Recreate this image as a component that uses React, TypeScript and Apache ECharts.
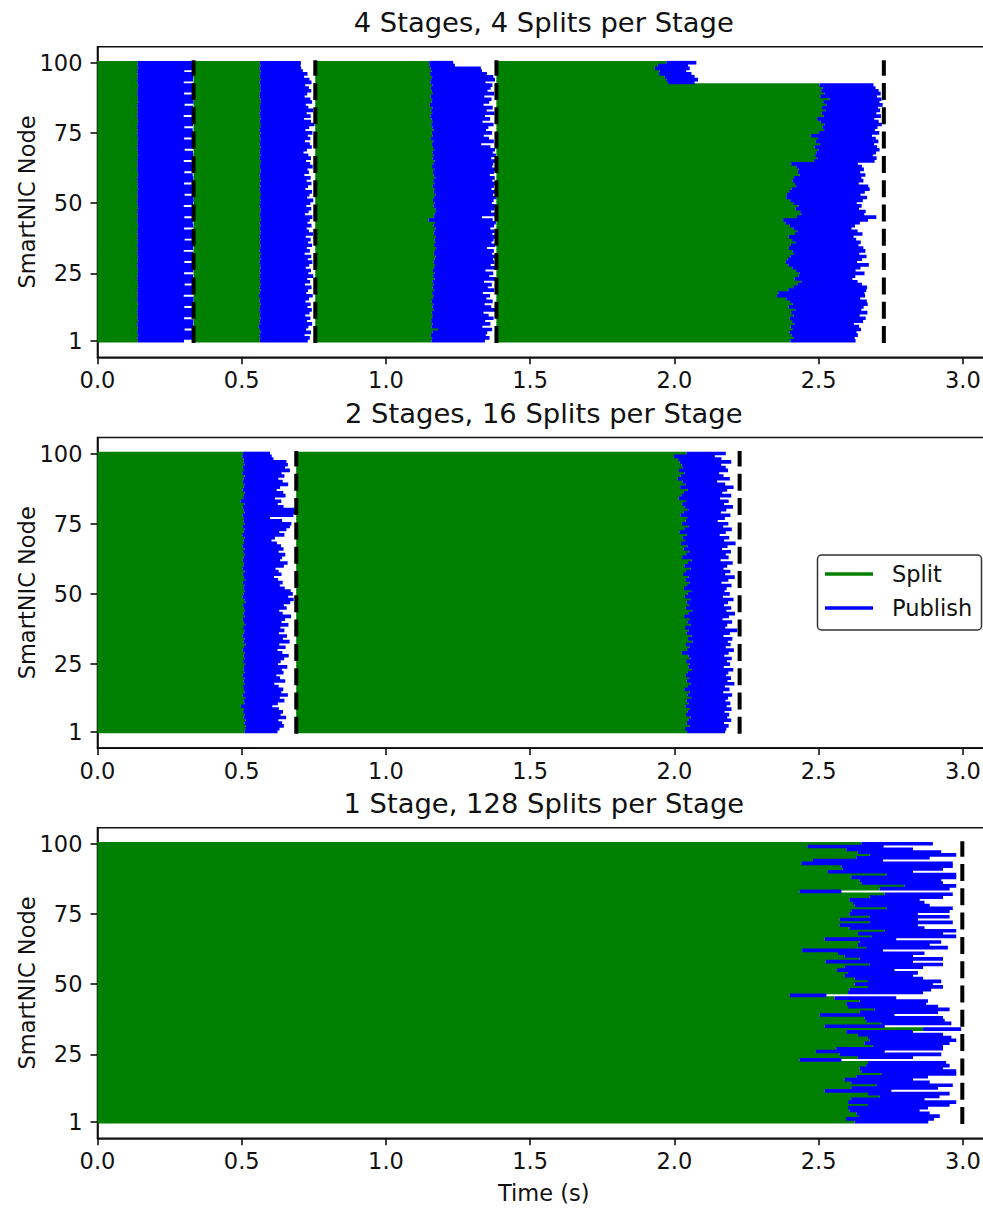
import React, { useEffect, useRef } from "react";
import * as echarts from "echarts";

// ---------- data (every per-node list runs from node 100 (top row) down to node 1) ----------
const NODES_TOP_DOWN = Array.from({ length: 100 }, (_, i) => 100 - i);
const X_TICKS = [0, 0.5, 1, 1.5, 2, 2.5, 3];
const Y_TICKS = [1, 25, 50, 75, 100];
const TITLES = [
  "4 Stages, 4 Splits per Stage",
  "2 Stages, 16 Splits per Stage",
  "1 Stage, 128 Splits per Stage",
];

// Panel A: 4 stages
const barriersA = [0.333, 0.755, 1.383, 2.726];
const splitEndA1 = [
  0.140,0.139,0.141,0.138,0.139,0.140,0.138,0.139,0.141,0.140,
  0.139,0.138,0.140,0.139,0.141,0.138,0.139,0.140,0.139,0.138,
  0.140,0.141,0.139,0.138,0.140,0.139,0.138,0.141,0.139,0.140,
  0.138,0.139,0.140,0.141,0.139,0.138,0.140,0.139,0.138,0.140,
  0.141,0.139,0.138,0.140,0.139,0.141,0.138,0.139,0.140,0.138,
  0.139,0.140,0.141,0.138,0.139,0.140,0.138,0.139,0.141,0.140,
  0.138,0.139,0.140,0.139,0.141,0.138,0.140,0.139,0.138,0.141,
  0.139,0.140,0.138,0.139,0.141,0.140,0.139,0.138,0.140,0.139,
  0.141,0.138,0.139,0.140,0.138,0.139,0.141,0.140,0.139,0.138,
  0.140,0.139,0.141,0.138,0.139,0.140,0.138,0.141,0.139,0.140,
];
const pubEndA1 = [
  0.332,0.331,0.333,0.301,0.330,0.332,0.331,0.299,0.333,0.330,
  0.331,0.300,0.332,0.330,0.333,0.302,0.331,0.332,0.330,0.299,
  0.332,0.333,0.331,0.301,0.330,0.332,0.333,0.300,0.331,0.330,
  0.333,0.302,0.331,0.332,0.330,0.299,0.333,0.331,0.332,0.301,
  0.330,0.332,0.331,0.300,0.333,0.331,0.330,0.302,0.332,0.333,
  0.331,0.299,0.330,0.332,0.333,0.301,0.331,0.330,0.332,0.300,
  0.333,0.331,0.332,0.302,0.330,0.333,0.331,0.299,0.332,0.330,
  0.331,0.301,0.333,0.330,0.332,0.300,0.331,0.333,0.330,0.302,
  0.332,0.330,0.331,0.299,0.333,0.332,0.330,0.301,0.331,0.333,
  0.330,0.300,0.332,0.331,0.333,0.302,0.330,0.332,0.331,0.300,
];
const splitEndA2 = [
  0.563,0.565,0.562,0.566,0.564,0.563,0.567,0.562,0.565,0.564,
  0.566,0.563,0.562,0.565,0.567,0.564,0.563,0.566,0.562,0.564,
  0.565,0.563,0.567,0.564,0.562,0.566,0.563,0.565,0.564,0.562,
  0.566,0.564,0.563,0.565,0.562,0.567,0.564,0.563,0.566,0.565,
  0.562,0.564,0.566,0.563,0.565,0.562,0.564,0.567,0.563,0.565,
  0.564,0.562,0.566,0.565,0.563,0.564,0.567,0.562,0.565,0.563,
  0.566,0.564,0.562,0.565,0.563,0.566,0.564,0.562,0.567,0.563,
  0.565,0.562,0.564,0.566,0.563,0.565,0.562,0.564,0.563,0.566,
  0.562,0.565,0.563,0.560,0.564,0.562,0.566,0.563,0.561,0.564,
  0.563,0.565,0.562,0.564,0.559,0.563,0.565,0.562,0.564,0.563,
];
const pubEndA2 = [
  0.705,0.704,0.706,0.712,0.728,0.716,0.735,0.742,0.720,0.733,
  0.741,0.727,0.718,0.738,0.744,0.722,0.731,0.747,0.725,0.739,
  0.716,0.740,0.752,0.734,0.721,0.745,0.729,0.738,0.719,0.736,
  0.743,0.726,0.714,0.731,0.740,0.723,0.737,0.746,0.728,0.733,
  0.717,0.739,0.725,0.742,0.730,0.721,0.744,0.735,0.727,0.748,
  0.738,0.724,0.741,0.732,0.719,0.745,0.736,0.728,0.742,0.725,
  0.733,0.747,0.722,0.739,0.730,0.744,0.726,0.736,0.718,0.741,
  0.729,0.745,0.734,0.722,0.740,0.731,0.748,0.727,0.737,0.719,
  0.742,0.730,0.724,0.746,0.733,0.721,0.739,0.728,0.743,0.735,
  0.720,0.738,0.726,0.744,0.731,0.723,0.740,0.718,0.736,0.729,
];
const splitEndA3 = [
  1.150,1.151,1.155,1.158,1.153,1.160,1.157,1.154,1.161,1.156,
  1.159,1.163,1.155,1.160,1.158,1.152,1.162,1.157,1.160,1.154,
  1.158,1.163,1.157,1.161,1.165,1.159,1.162,1.156,1.164,1.160,
  1.163,1.167,1.161,1.166,1.162,1.169,1.164,1.160,1.167,1.163,
  1.166,1.171,1.164,1.168,1.162,1.170,1.166,1.172,1.167,1.163,
  1.169,1.165,1.171,1.174,1.168,1.166,1.148,1.170,1.165,1.172,
  1.168,1.166,1.173,1.169,1.171,1.167,1.174,1.170,1.166,1.172,
  1.169,1.165,1.170,1.167,1.163,1.168,1.164,1.169,1.161,1.166,
  1.162,1.167,1.160,1.165,1.163,1.158,1.164,1.161,1.166,1.159,
  1.163,1.160,1.157,1.162,1.158,1.180,1.161,1.156,1.160,1.158,
];
const pubEndA3 = [
  1.233,1.239,1.329,1.333,1.350,1.372,1.378,1.345,1.369,1.363,
  1.352,1.375,1.341,1.366,1.358,1.338,1.370,1.349,1.376,1.343,
  1.361,1.335,1.373,1.355,1.347,1.368,1.339,1.357,1.374,1.330,
  1.362,1.378,1.370,1.381,1.365,1.379,1.372,1.368,1.380,1.375,
  1.360,1.377,1.369,1.382,1.374,1.366,1.379,1.371,1.383,1.373,
  1.367,1.380,1.376,1.364,1.378,1.333,1.370,1.381,1.375,1.362,
  1.377,1.369,1.380,1.373,1.366,1.379,1.350,1.374,1.368,1.381,
  1.371,1.376,1.363,1.378,1.345,1.372,1.358,1.380,1.340,1.367,
  1.353,1.375,1.336,1.361,1.348,1.370,1.342,1.365,1.379,1.338,
  1.356,1.373,1.344,1.362,1.334,1.368,1.351,1.346,1.359,1.343,
];
const splitEndA4 = [
  1.972,1.943,1.932,1.949,1.947,1.966,1.972,1.978,
  2.503,2.514,2.509,2.520,2.506,2.538,2.516,2.527,2.512,2.523,
  2.510,2.518,2.495,2.507,2.521,2.513,2.519,2.501,2.474,2.498,
  2.490,2.505,2.486,2.499,2.492,2.488,2.495,2.483,
  2.405,2.423,2.431,2.428,2.434,2.415,2.410,2.418,2.422,2.406,
  2.398,2.390,2.388,2.402,2.412,2.430,2.420,2.436,2.440,2.425,
  2.377,2.385,2.400,2.413,2.426,2.418,2.396,2.408,2.421,2.404,
  2.397,2.410,2.415,2.402,2.392,2.386,2.395,2.409,2.422,2.434,
  2.430,2.417,2.440,2.426,2.412,2.395,2.360,2.356,2.388,2.401,
  2.410,2.396,2.419,2.405,2.413,2.400,2.408,2.416,2.403,2.411,
  2.399,2.407,2.414,2.402,
];
const pubEndA4 = [
  2.076,2.047,2.053,2.041,2.059,2.070,2.082,2.070,
  2.690,2.697,2.708,2.715,2.702,2.718,2.711,2.722,2.706,2.713,
  2.700,2.716,2.693,2.708,2.719,2.704,2.695,2.710,2.685,2.698,
  2.707,2.692,2.703,2.711,2.699,2.688,2.701,2.694,
  2.636,2.650,2.657,2.644,2.662,2.648,2.655,2.639,2.672,2.677,
  2.660,2.645,2.668,2.653,2.632,2.649,2.640,2.663,2.658,2.700,
  2.671,2.643,2.626,2.614,2.635,2.652,2.621,2.630,2.646,2.638,
  2.655,2.662,2.641,2.666,2.650,2.633,2.674,2.645,2.628,2.659,
  2.627,2.617,2.635,2.650,2.668,2.665,2.659,2.661,2.644,2.667,
  2.670,2.656,2.648,2.669,2.642,2.663,2.654,2.622,2.640,2.647,
  2.631,2.636,2.625,2.628,
];

// Panel B: 2 stages
const barriersB = [0.689, 2.226];
const splitEndB1 = [
  0.505,0.503,0.507,0.506,0.509,0.504,0.508,0.502,0.510,0.506,
  0.504,0.509,0.507,0.503,0.511,0.508,0.505,0.496,0.509,0.504,
  0.507,0.510,0.503,0.508,0.506,0.511,0.504,0.509,0.507,0.502,
  0.510,0.506,0.508,0.503,0.509,0.505,0.511,0.507,0.504,0.508,
  0.506,0.503,0.510,0.505,0.508,0.512,0.504,0.509,0.506,0.511,
  0.507,0.503,0.509,0.513,0.505,0.508,0.511,0.506,0.510,0.504,
  0.508,0.512,0.505,0.509,0.507,0.503,0.510,0.506,0.513,0.508,
  0.504,0.511,0.507,0.509,0.505,0.512,0.508,0.506,0.510,0.503,
  0.509,0.506,0.511,0.505,0.508,0.510,0.504,0.512,0.507,0.509,
  0.497,0.508,0.505,0.511,0.507,0.513,0.509,0.514,0.512,0.510,
];
const pubEndB1 = [
  0.598,0.604,0.610,0.655,0.660,0.650,0.667,0.638,0.648,0.627,
  0.642,0.661,0.633,0.621,0.644,0.652,0.615,0.637,0.625,0.645,
  0.683,0.688,0.679,0.598,0.640,0.672,0.667,0.655,0.630,0.648,
  0.615,0.603,0.622,0.636,0.645,0.628,0.651,0.640,0.633,0.659,
  0.646,0.617,0.628,0.638,0.612,0.626,0.642,0.632,0.649,0.670,
  0.677,0.661,0.680,0.668,0.646,0.656,0.630,0.642,0.671,0.650,
  0.638,0.662,0.634,0.648,0.629,0.657,0.643,0.666,0.630,0.652,
  0.624,0.641,0.663,0.647,0.635,0.626,0.658,0.639,0.645,0.620,
  0.633,0.651,0.613,0.628,0.644,0.637,0.660,0.632,0.648,0.625,
  0.606,0.629,0.643,0.635,0.654,0.627,0.640,0.646,0.631,0.624,
];
const splitEndB2 = [
  2.042,1.998,2.013,2.019,2.025,2.030,2.016,2.035,2.022,2.011,
  2.028,2.038,2.020,2.046,2.033,2.024,2.015,2.040,2.027,2.036,
  2.048,2.031,2.021,2.044,2.039,2.026,2.050,2.034,2.018,2.043,
  2.029,2.037,2.023,2.045,2.032,2.052,2.041,2.027,2.060,2.047,
  2.035,2.056,2.040,2.030,2.049,2.038,2.053,2.044,2.033,2.058,
  2.046,2.036,2.055,2.043,2.051,2.039,2.062,2.048,2.034,2.054,
  2.045,2.057,2.037,2.050,2.042,2.059,2.047,2.063,2.040,2.052,
  2.044,2.026,2.049,2.055,2.041,2.053,2.048,2.061,2.046,2.039,
  2.051,2.043,2.057,2.047,2.035,2.053,2.045,2.058,2.042,2.050,
  2.038,2.054,2.046,2.040,2.056,2.048,2.043,2.052,2.037,2.044,
];
const pubEndB2 = [
  2.178,2.140,2.163,2.197,2.162,2.178,2.186,2.155,2.170,2.192,
  2.148,2.176,2.205,2.183,2.166,2.197,2.158,2.188,2.172,2.203,
  2.180,2.161,2.194,2.175,2.150,2.187,2.169,2.199,2.178,2.157,
  2.190,2.172,2.212,2.184,2.165,2.196,2.178,2.188,2.160,2.202,
  2.183,2.170,2.194,2.176,2.209,2.187,2.163,2.198,2.181,2.174,
  2.192,2.168,2.205,2.186,2.172,2.197,2.180,2.210,2.189,2.167,
  2.200,2.183,2.176,2.218,2.192,2.170,2.201,2.185,2.195,2.178,
  2.206,2.188,2.173,2.199,2.182,2.193,2.171,2.204,2.187,2.179,
  2.196,2.184,2.208,2.175,2.191,2.169,2.200,2.186,2.177,2.194,
  2.181,2.198,2.174,2.190,2.183,2.197,2.172,2.188,2.180,2.176,
];

// Panel C: 1 stage
const barriersC = [2.998];
const splitEndC1 = [
  2.648,2.461,2.596,2.636,2.677,2.631,2.480,2.440,2.579,2.584,
  2.532,2.735,2.613,2.642,2.648,2.798,2.711,2.434,2.729,2.677,
  2.607,2.619,2.625,2.735,2.613,2.607,2.677,2.573,2.677,2.573,
  2.607,2.729,2.636,2.683,2.521,2.642,2.636,2.665,2.443,2.567,
  2.590,2.642,2.524,2.677,2.590,2.564,2.602,2.590,2.625,2.671,
  2.625,2.671,2.607,2.602,2.400,2.555,2.642,2.596,2.602,2.694,
  2.642,2.504,2.659,2.665,2.717,2.521,2.862,2.596,2.636,2.671,
  2.677,2.659,2.688,2.561,2.490,2.573,2.636,2.434,2.671,2.665,
  2.642,2.648,2.717,2.631,2.590,2.613,2.700,2.613,2.521,2.671,
  2.711,2.613,2.602,2.671,2.602,2.607,2.631,2.640,2.595,2.625,
];
const pubEndC1 = [
  2.896,2.725,2.827,2.925,2.977,2.885,2.723,2.965,2.965,2.931,
  2.827,2.977,2.977,2.925,2.931,2.977,2.954,2.579,2.965,2.931,
  2.850,2.867,2.885,2.965,2.954,2.844,2.954,2.844,2.965,2.844,
  2.867,2.977,2.931,2.977,2.769,2.925,2.885,2.948,2.723,2.867,
  2.827,2.931,2.827,2.931,2.862,2.763,2.844,2.827,2.862,2.925,
  2.896,2.931,2.890,2.862,2.527,2.769,2.879,2.873,2.914,2.954,
  2.914,2.763,2.931,2.937,2.960,2.729,2.994,2.827,2.931,2.960,
  2.977,2.954,2.931,2.931,2.729,2.925,2.827,2.579,2.942,2.954,
  2.931,2.977,2.977,2.879,2.827,2.885,2.965,2.914,2.752,2.954,
  2.919,2.867,2.977,2.954,2.879,2.850,2.885,2.920,2.900,2.880,
];

const PANELS = [
  { barriers: barriersA, split: [splitEndA1, splitEndA2, splitEndA3, splitEndA4], pub: [pubEndA1, pubEndA2, pubEndA3, pubEndA4] },
  { barriers: barriersB, split: [splitEndB1, splitEndB2], pub: [pubEndB1, pubEndB2] },
  { barriers: barriersC, split: [splitEndC1], pub: [pubEndC1] },
];

// ---------- layout / style ----------
const FONT = "DejaVu Sans";
const GREEN = "#008000";
const BLUE = "#0000ff";
const GRID_LEFT = 97.5;
const GRID_W = 892.5;
const GRID_H = 310.6;
const GRID_TOPS = [46.7, 437.5, 827.7];
const X_MAX = 3.094;
const Y_MIN = -4.9;
const Y_MAX = 105.7;
const BAR_H = 1.3;
const TICK_FS = 22.5;
const LABEL_FS = 22.5;
const TITLE_FS = 27.4;

function buildSegments(p: any) {
  const split: number[][] = [];
  const pub: number[][] = [];
  for (let i = NODES_TOP_DOWN.length - 1; i >= 0; i--) {
    const node = NODES_TOP_DOWN[i];
    for (let s = 0; s < p.barriers.length; s++) {
      const start = s === 0 ? 0 : p.barriers[s - 1];
      split.push([start, p.split[s][i], node]);
      pub.push([p.split[s][i], p.pub[s][i], node]);
    }
  }
  return { split, pub };
}

function renderBar(params: any, api: any) {
  const x0 = api.value(0);
  const x1 = api.value(1);
  const n = api.value(2);
  const p0 = api.coord([x0, n + BAR_H / 2]);
  const p1 = api.coord([x1, n - BAR_H / 2]);
  return {
    type: "rect",
    shape: { x: p0[0], y: p0[1], width: p1[0] - p0[0], height: p1[1] - p0[1] },
    style: { fill: api.visual("color") },
  };
}

function renderBarrier(params: any, api: any) {
  const x = api.value(0);
  const a = api.coord([x, 0.2]);
  const b = api.coord([x, 100.9]);
  return {
    type: "line",
    shape: { x1: a[0], y1: a[1], x2: b[0], y2: b[1] },
    style: { stroke: "#000", lineWidth: 4, lineDash: [17, 7.3], fill: null },
    z2: 10,
  };
}

export default function App() {
  const ref = useRef<HTMLDivElement>(null);
  useEffect(() => {
    if (!ref.current) return;
    document.body.style.margin = "0";
    document.body.style.overflow = "hidden";
    document.documentElement.style.overflow = "hidden";
    const chart = echarts.init(ref.current, undefined, { renderer: "svg" });

    const grid: any[] = [];
    const xAxis: any[] = [];
    const yAxis: any[] = [];
    const series: any[] = [];
    const graphic: any[] = [];

    PANELS.forEach((p, k) => {
      grid.push({
        left: GRID_LEFT, top: GRID_TOPS[k], width: GRID_W, height: GRID_H,
        show: true, borderColor: "#111", borderWidth: 1.6, backgroundColor: "transparent",
      });
      xAxis.push({
        type: "value", gridIndex: k, min: 0, max: X_MAX,
        axisLine: { show: true, onZero: false, lineStyle: { color: "#111", width: 1.6 } },
        axisTick: { show: true, length: 7, customValues: X_TICKS, lineStyle: { color: "#111", width: 1.6 } },
        axisLabel: {
          customValues: X_TICKS, formatter: (v: number) => v.toFixed(1),
          color: "#111", fontFamily: FONT, fontSize: TICK_FS, margin: 11,
        },
        splitLine: { show: false },
      });
      yAxis.push({
        type: "value", gridIndex: k, min: Y_MIN, max: Y_MAX,
        axisLine: { show: true, onZero: false, lineStyle: { color: "#111", width: 1.6 } },
        axisTick: { show: true, length: 7, customValues: Y_TICKS, lineStyle: { color: "#111", width: 1.6 } },
        axisLabel: {
          customValues: Y_TICKS, color: "#111", fontFamily: FONT, fontSize: TICK_FS, margin: 15,
        },
        splitLine: { show: false },
      });
      const seg = buildSegments(p);
      series.push({
        type: "custom", name: "Split", xAxisIndex: k, yAxisIndex: k,
        itemStyle: { color: GREEN }, renderItem: renderBar,
        encode: { x: [0, 1], y: 2 }, data: seg.split, silent: true, z: 2,
      });
      series.push({
        type: "custom", name: "Publish", xAxisIndex: k, yAxisIndex: k,
        itemStyle: { color: BLUE }, renderItem: renderBar,
        encode: { x: [0, 1], y: 2 }, data: seg.pub, silent: true, z: 3,
      });
      series.push({
        type: "custom", name: "barrier", xAxisIndex: k, yAxisIndex: k,
        renderItem: renderBarrier, encode: { x: 0 },
        data: p.barriers.map((b) => [b]), silent: true, z: 5,
      });

      graphic.push({
        type: "text", x: GRID_LEFT + GRID_W / 2, y: GRID_TOPS[k] - 24.5,
        style: { text: TITLES[k], fontFamily: FONT, fontSize: TITLE_FS, fill: "#111", align: "center", verticalAlign: "middle" },
      });
      graphic.push({
        type: "text", x: 27, y: GRID_TOPS[k] + GRID_H / 2, rotation: Math.PI / 2,
        style: { text: "SmartNIC Node", fontFamily: FONT, fontSize: LABEL_FS, fill: "#111", align: "center", verticalAlign: "middle" },
      });
    });

    graphic.push({
      type: "text", x: GRID_LEFT + GRID_W / 2, y: 1193,
      style: { text: "Time (s)", fontFamily: FONT, fontSize: LABEL_FS, fill: "#111", align: "center", verticalAlign: "middle" },
    });

    // legend (inside the middle panel, right side)
    graphic.push({ type: "rect", shape: { x: 817.5, y: 555, width: 164, height: 75, r: 4 }, style: { fill: "#fff", stroke: "#333", lineWidth: 1.5 }, z: 20 });
    graphic.push({ type: "line", shape: { x1: 825, y1: 574, x2: 873, y2: 574 }, style: { stroke: GREEN, lineWidth: 3.3 }, z: 21 });
    graphic.push({ type: "line", shape: { x1: 825, y1: 608, x2: 873, y2: 608 }, style: { stroke: BLUE, lineWidth: 3.3 }, z: 21 });
    graphic.push({ type: "text", x: 892, y: 574, style: { text: "Split", fontFamily: FONT, fontSize: TICK_FS, fill: "#111", verticalAlign: "middle" }, z: 21 });
    graphic.push({ type: "text", x: 892, y: 608, style: { text: "Publish", fontFamily: FONT, fontSize: TICK_FS, fill: "#111", verticalAlign: "middle" }, z: 21 });

    chart.setOption({
      animation: false,
      backgroundColor: "#fff",
      grid, xAxis, yAxis, series, graphic,
    });
    return () => chart.dispose();
  }, []);
  return <div ref={ref} style={{ position: "absolute", left: 0, top: 0, width: 1000, height: 1209 }} />;
}
